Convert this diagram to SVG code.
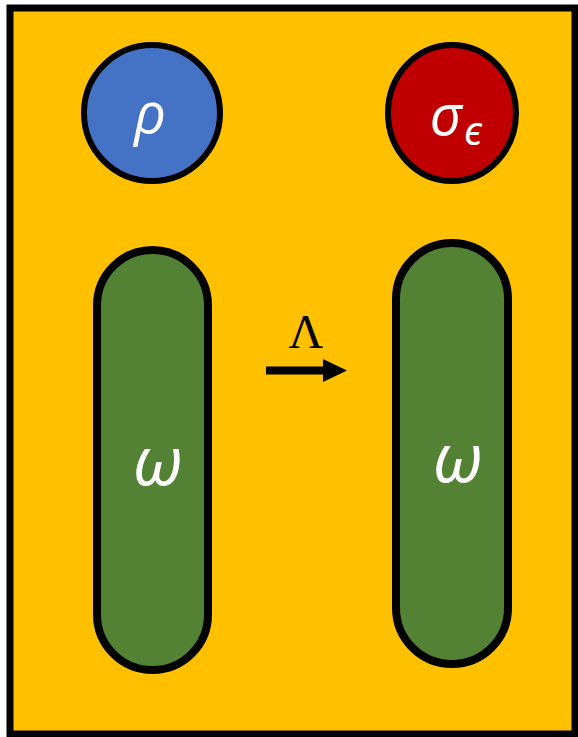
<svg xmlns="http://www.w3.org/2000/svg" width="578" height="737" viewBox="0 0 578 737">
<style>
.lbl{font-family:"Open Sans","Noto Sans",sans-serif;font-style:italic;fill:#fff;text-anchor:middle}
.shp{stroke:#000}
</style>
<defs>
<marker id="ah" markerWidth="24" markerHeight="23" refX="0" refY="11.5" markerUnits="userSpaceOnUse" orient="auto">
<path d="M0,0 L24,11.5 L0,23 Z" fill="#000"/>
</marker>
</defs>
<rect id="frame" x="10" y="8" width="565" height="726" fill="#FFC000" stroke="#000" stroke-width="7"/>
<g id="rho">
<circle class="shp" cx="152" cy="113" r="68" fill="#4472C4" stroke-width="6"/>
<text class="lbl" x="150" y="133" font-size="56">ρ</text>
</g>
<g id="sigma">
<ellipse class="shp" cx="452" cy="113" rx="64" ry="68" fill="#C00000" stroke-width="6"/>
<text class="lbl" x="446" y="135" font-size="56">σ</text>
<text class="lbl" x="473" y="145" font-size="40">ϵ</text>
</g>
<g id="omega1">
<rect class="shp" x="97" y="250" width="111" height="420" rx="55.5" fill="#548235" stroke-width="8"/>
<text class="lbl" x="158" y="485" font-size="68">ω</text>
</g>
<g id="omega2">
<rect class="shp" x="396" y="243" width="112" height="421" rx="56" fill="#548235" stroke-width="8"/>
<text class="lbl" x="458" y="482" font-size="68">ω</text>
</g>
<g id="connectors">
<line x1="266" y1="370.5" x2="323" y2="370.5" stroke="#000" stroke-width="8" marker-end="url(#ah)"/>
<text x="306" y="348" font-family="Liberation Serif,serif" font-size="48" text-anchor="middle" fill="#000">Λ</text>
</g>
</svg>
